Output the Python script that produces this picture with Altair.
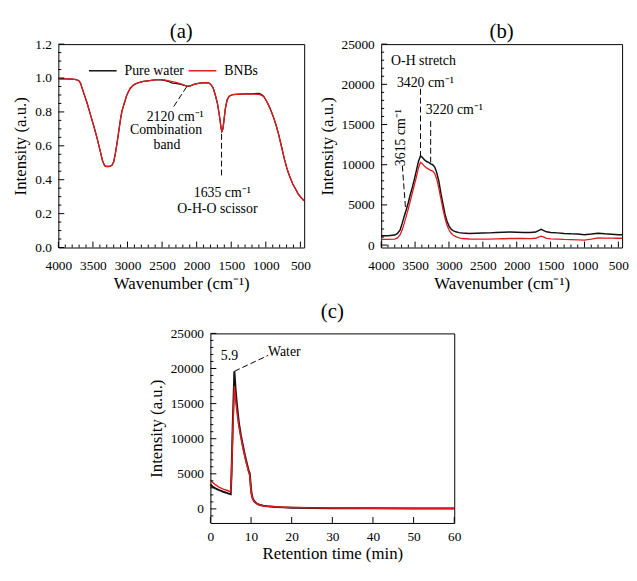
import altair as alt
import pandas as pd

FONT = "Liberation Serif, Times New Roman, serif"
RED = "#e31a1c"
BLACK = "#111111"

# ---------------- (a) FTIR-like transmittance ----------------
a_wn = [4000, 3900, 3800, 3740, 3700, 3680, 3640, 3590, 3540, 3490, 3440, 3395, 3360, 3330,
        3300, 3260, 3225, 3200, 3175, 3150, 3125, 3100, 3080, 3040, 3010, 2960, 2910, 2850,
        2770, 2680, 2580, 2480, 2400, 2350, 2300, 2230, 2140, 2100, 2040, 1960, 1880, 1820,
        1790, 1760, 1730, 1700, 1675, 1658, 1645, 1635, 1620, 1605, 1585, 1560, 1530, 1480,
        1400, 1300, 1200, 1100, 1060, 1030, 1000, 960, 927, 890, 850, 810, 770, 730, 690,
        650, 610, 570, 530, 490, 460, 445]
a_bnb = [0.995, 0.995, 0.993, 0.99, 0.983, 0.97, 0.92, 0.86, 0.79, 0.72, 0.645, 0.57, 0.51, 0.483,
         0.478, 0.479, 0.485, 0.505, 0.555, 0.62, 0.69, 0.76, 0.805, 0.86, 0.90, 0.94, 0.96, 0.972,
         0.98, 0.985, 0.99, 0.99, 0.983, 0.979, 0.975, 0.965, 0.952, 0.952, 0.962, 0.97, 0.973, 0.97,
         0.96, 0.94, 0.90, 0.85, 0.79, 0.74, 0.70, 0.685, 0.70, 0.75, 0.82, 0.87, 0.893, 0.902,
         0.904, 0.905, 0.905, 0.904, 0.898, 0.89, 0.872, 0.84, 0.81, 0.77, 0.72, 0.66, 0.59, 0.52, 0.46,
         0.415, 0.375, 0.345, 0.315, 0.295, 0.282, 0.276]
a_pure = [0.995, 0.995, 0.993, 0.99, 0.983, 0.97, 0.92, 0.86, 0.79, 0.72, 0.645, 0.57, 0.51, 0.483,
          0.478, 0.479, 0.485, 0.505, 0.555, 0.62, 0.69, 0.76, 0.805, 0.86, 0.90, 0.94, 0.96, 0.972,
          0.98, 0.985, 0.99, 0.988, 0.978, 0.97, 0.969, 0.962, 0.952, 0.952, 0.962, 0.97, 0.973, 0.97,
          0.96, 0.94, 0.90, 0.85, 0.79, 0.74, 0.70, 0.685, 0.70, 0.75, 0.82, 0.87, 0.893, 0.902,
          0.905, 0.906, 0.907, 0.909, 0.902, 0.891, 0.872, 0.84, 0.81, 0.77, 0.72, 0.66, 0.59, 0.52, 0.46,
          0.415, 0.375, 0.345, 0.315, 0.295, 0.282, 0.276]
a_series = ["Pure water", "BNBs"]

# ---------------- (b) Raman spectra ----------------
b_wn = [4000, 3900, 3800, 3760, 3720, 3690, 3660, 3630, 3600, 3570, 3540, 3510, 3480, 3450,
        3420, 3390, 3360, 3330, 3300, 3270, 3240, 3210, 3180, 3150, 3120, 3090, 3060, 3030,
        3000, 2970, 2940, 2900, 2850, 2800, 2700, 2600, 2500, 2400, 2300, 2200, 2100, 2000,
        1900, 1800, 1720, 1680, 1640, 1600, 1560, 1500, 1400, 1300, 1200, 1100, 1000, 900,
        800, 700, 600, 500, 445]
b_pure = [1150, 1150, 1250, 1450, 1900, 2700, 3600, 4400, 5300, 6300, 7200, 8200, 9300, 10400,
          11100, 10900, 10600, 10400, 10300, 10100, 10000, 9700, 9000, 8000, 6500, 5200, 3900, 3000,
          2400, 2000, 1800, 1650, 1550, 1500, 1450, 1480, 1500, 1520, 1560, 1600, 1620, 1600,
          1580, 1560, 1620, 1800, 1950, 1800, 1650, 1580, 1520, 1450, 1400, 1380, 1300, 1380,
          1480, 1400, 1350, 1300, 1280]
b_bnb = [700, 700, 750, 900, 1300, 1900, 2700, 3600, 4500, 5500, 6500, 7500, 8500, 9600,
         10300, 10100, 9800, 9600, 9450, 9300, 9200, 8900, 8200, 7100, 5800, 4500, 3400, 2500,
         1900, 1500, 1250, 1050, 900, 820, 760, 740, 740, 750, 770, 790, 820, 830,
         820, 800, 850, 1000, 1120, 1000, 850, 780, 740, 700, 680, 650, 620, 750,
         900, 880, 860, 850, 850]

# ---------------- (c) chromatogram ----------------
c_t = [0, 0.5, 1, 1.5, 2, 2.5, 3, 3.5, 4, 4.5, 5.0, 5.2, 5.5, 5.9, 6.2, 6.5, 7, 7.5, 8, 8.5, 9,
       9.4, 9.7, 9.9, 10.1, 10.4, 10.8, 11.3, 12, 13, 14, 16, 18, 20, 25, 30, 40, 50, 60]
c_pure = [3500, 3200, 3000, 2850, 2700, 2600, 2480, 2380, 2280, 2180, 2100, 5000, 12000, 19600,
          17000, 15000, 12300, 10500, 9000, 7600, 6400, 5500, 5000, 3500, 2300, 1500, 1100, 800,
          600, 450, 370, 280, 220, 180, 140, 110, 80, 70, 60]
c_bnb = [4150, 3800, 3550, 3350, 3150, 3000, 2850, 2750, 2650, 2550, 2450, 5000, 11000, 17500,
         15500, 14000, 11800, 10200, 8700, 7400, 6200, 5300, 4800, 3200, 2100, 1400, 1000, 780,
         600, 460, 380, 300, 240, 200, 150, 120, 90, 80, 80]

# ---------------- annotations ----------------
a_lab_x = [2310, 2443, 2429, 1629, 1700]
a_lab_y = [0.772, 0.695, 0.602, 0.322, 0.225]
a_lab_t = ["2120 cm⁻¹", "Combination", "band", "1635 cm⁻¹", "O-H-O scissor"]
a_seg_x = [2144, 1640]
a_seg_y = [0.949, 0.67]
a_seg_x2 = [2334, 1640]
a_seg_y2 = [0.83, 0.415]

b_lab_x = [3854, 3347, 2920]
b_lab_y = [22880, 20210, 16860]
b_lab_t = ["O-H stretch", "3420 cm⁻¹", "3220 cm⁻¹"]
b_rot_x = [3702]
b_rot_y = [13370]
b_rot_t = ["3615 cm⁻¹"]
b_seg_x = [3420, 3270, 3688]
b_seg_y = [19440, 15420, 9890]
b_seg_x2 = [3420, 3270, 3641]
b_seg_y2 = [11000, 10100, 4580]

c_lab_x = [4.7, 18.2]
c_lab_y = [21780, 22300]
c_lab_t = ["5.9", "Water"]
c_seg_x = [5.9]
c_seg_y = [19600]
c_seg_x2 = [14.2]
c_seg_y2 = [21870]

# tick values
wn_major = [4000, 3500, 3000, 2500, 2000, 1500, 1000, 500]
wn_minor = [v for v in range(4000, 440, -100) if v % 500 != 0]
a_ymajor = [0.0, 0.2, 0.4, 0.6, 0.8, 1.0, 1.2]
a_yminor = [round(i * 0.05, 2) for i in range(0, 25) if i % 4 != 0]
r_ymajor = [0, 5000, 10000, 15000, 20000, 25000]
b_yminor = [v for v in range(1000, 25000, 1000) if v % 5000 != 0]
c_yminor = [v for v in range(-1000, 25000, 1000) if v % 5000 != 0]
c_xmajor = [0, 10, 20, 30, 40, 50, 60]

WN_DOM = [445, 4000]


def axis(orient, values, title, fmt, pad, tpad):
    return alt.Axis(
        orient=orient, values=values, ticks=False, domain=False, grid=False,
        labelFont=FONT, labelFontSize=13.5, labelColor="black", labelPadding=pad,
        labelFlush=False, labelOverlap=False, format=fmt,
        title=title, titleFont=FONT, titleFontSize=17, titleFontWeight="normal",
        titleColor="black", titlePadding=tpad,
    )


def xs(dom, rev, ax, field="x"):
    return alt.X(field, type="quantitative",
                 scale=alt.Scale(domain=dom, reverse=rev, nice=False, zero=False), axis=ax)


def ys(dom, ax, field="y"):
    return alt.Y(field, type="quantitative",
                 scale=alt.Scale(domain=dom, nice=False, zero=False), axis=ax)


def title(t, off):
    return alt.TitleParams(t, font=FONT, fontSize=21, fontWeight="normal", color="black",
                           anchor="middle", offset=off)


def tick_layers(xdom, xrev, ydom, height, xmaj, xmin, ymaj, ymin):
    layers = []
    for vals, size in ((xmaj, 6), (xmin, 3)):
        if vals:
            layers.append(alt.Chart(pd.DataFrame({"x": vals})).mark_rule(
                color="black", strokeWidth=1).encode(
                x=xs(xdom, xrev, None), y=alt.value(height - size), y2=alt.value(height)))
    for vals, size in ((ymaj, 6), (ymin, 3)):
        if vals:
            layers.append(alt.Chart(pd.DataFrame({"y": vals})).mark_rule(
                color="black", strokeWidth=1).encode(
                y=ys(ydom, None), x=alt.value(0), x2=alt.value(size)))
    return layers


def text_layer(xdom, xrev, ydom, xv, yv, tv, align="center", angle=0):
    df = pd.DataFrame({"x": xv, "y": yv, "t": tv})
    return alt.Chart(df).mark_text(font=FONT, fontSize=14, color="black", align=align,
                                   baseline="middle", angle=angle).encode(
        x=xs(xdom, xrev, None), y=ys(ydom, None), text="t:N")


def seg_layer(xdom, xrev, ydom, x1, y1, x2, y2):
    df = pd.DataFrame({"x": x1, "y": y1, "x2": x2, "y2": y2})
    return alt.Chart(df).mark_rule(color="black", strokeWidth=1, strokeDash=[6, 3]).encode(
        x=xs(xdom, xrev, None), y=ys(ydom, None), x2="x2", y2="y2")


# ---------- panel (a) ----------
A_Y = [0, 1.2]
A_H = 206
df_a = pd.DataFrame({
    "x": a_wn + a_wn,
    "y": a_pure + a_bnb,
    "s": [a_series[0]] * len(a_wn) + [a_series[1]] * len(a_wn),
    "o": list(range(len(a_wn))) * 2,
})
a_lines = alt.Chart(df_a).mark_line(strokeWidth=1.3).encode(
    x=xs(WN_DOM, True, axis("bottom", wn_major, "Wavenumber (cm⁻¹)", "d", 11, 4)),
    y=ys(A_Y, axis("left", a_ymajor, "Intensity (a.u.)", ".1f", 7, 5)),
    color=alt.Color("s:N", scale=alt.Scale(domain=a_series, range=[BLACK, RED]),
                    legend=alt.Legend(orient="none", legendX=30, legendY=12,
                                      direction="horizontal", title=None,
                                      symbolType="stroke", symbolSize=784,
                                      symbolStrokeWidth=1.5, labelFont=FONT,
                                      labelFontSize=14, labelColor="black",
                                      labelOffset=7, columnPadding=1)),
    order="o:Q",
    detail="s:N",
)
panel_a = alt.layer(
    a_lines,
    *tick_layers(WN_DOM, True, A_Y, A_H, wn_major, wn_minor, a_ymajor, a_yminor),
    seg_layer(WN_DOM, True, A_Y, a_seg_x, a_seg_y, a_seg_x2, a_seg_y2),
    text_layer(WN_DOM, True, A_Y, a_lab_x, a_lab_y, a_lab_t),
).resolve_axis(x="independent", y="independent").properties(
    width=249, height=A_H, title=title("(a)", -4.5))

# ---------- panel (b) ----------
B_Y = [-300, 25000]
B_H = 206
df_bp = pd.DataFrame({"x": b_wn, "y": b_pure})
df_bb = pd.DataFrame({"x": b_wn, "y": b_bnb})
b_black = alt.Chart(df_bp).mark_line(color=BLACK, strokeWidth=1.5).encode(
    x=xs(WN_DOM, True, axis("bottom", wn_major, "Wavenumber (cm⁻¹)", "d", 11, 4)),
    y=ys(B_Y, axis("left", r_ymajor, "Intensity (a.u.)", "d", 7, 5)),
    order="x:Q")
b_red = alt.Chart(df_bb).mark_line(color=RED, strokeWidth=1.3).encode(
    x=xs(WN_DOM, True, None), y=ys(B_Y, None), order="x:Q")
panel_b = alt.layer(
    b_black, b_red,
    *tick_layers(WN_DOM, True, B_Y, B_H, wn_major, wn_minor, r_ymajor, b_yminor),
    seg_layer(WN_DOM, True, B_Y, b_seg_x, b_seg_y, b_seg_x2, b_seg_y2),
    text_layer(WN_DOM, True, B_Y, b_lab_x[:1], b_lab_y[:1], b_lab_t[:1], align="left"),
    text_layer(WN_DOM, True, B_Y, b_lab_x[1:], b_lab_y[1:], b_lab_t[1:]),
    text_layer(WN_DOM, True, B_Y, b_rot_x, b_rot_y, b_rot_t, angle=270),
).resolve_axis(x="independent", y="independent").properties(
    width=244, height=B_H, title=title("(b)", -4.5))

# ---------- panel (c) ----------
C_X = [0, 60]
C_Y = [-2000, 25000]
C_H = 192
df_cp = pd.DataFrame({"x": c_t, "y": c_pure})
df_cb = pd.DataFrame({"x": c_t, "y": c_bnb})
c_black = alt.Chart(df_cp).mark_line(color=BLACK, strokeWidth=2).encode(
    x=xs(C_X, False, axis("bottom", c_xmajor, "Retention time (min)", "d", 7, 3)),
    y=ys(C_Y, axis("left", r_ymajor, "Intensity (a.u.)", "d", 7, 5)),
    order="x:Q")
c_red = alt.Chart(df_cb).mark_line(color=RED, strokeWidth=1.5).encode(
    x=xs(C_X, False, None), y=ys(C_Y, None), order="x:Q")
panel_c = alt.layer(
    c_black, c_red,
    *tick_layers(C_X, False, C_Y, C_H, c_xmajor, [], r_ymajor, c_yminor),
    seg_layer(C_X, False, C_Y, c_seg_x, c_seg_y, c_seg_x2, c_seg_y2),
    text_layer(C_X, False, C_Y, c_lab_x, c_lab_y, c_lab_t),
).resolve_axis(x="independent", y="independent").properties(
    width=247, height=C_H, title=title("(c)", 5))

spacer = alt.Chart(pd.DataFrame({"x": [0.5], "y": [0.5]})).mark_point(opacity=0, size=1).encode(
    x=alt.X("x:Q", axis=None, scale=alt.Scale(domain=[0, 1])),
    y=alt.Y("y:Q", axis=None, scale=alt.Scale(domain=[0, 1])),
).properties(width=88, height=10, view=alt.ViewBackground(stroke="transparent"))

top = alt.hconcat(panel_a, panel_b, spacing=6)
bottom = alt.hconcat(spacer, panel_c, spacing=0)
chart = alt.vconcat(top, bottom, spacing=8).properties(
    padding={"left": 3, "top": 9, "right": 0, "bottom": 0}
).configure_view(stroke="black", strokeWidth=1).configure_axis(
    labelFont=FONT, titleFont=FONT, labelColor="black", titleColor="black"
).configure_scale(continuousPadding=0)

chart.save("out.html", embed_options={"renderer": "svg", "actions": False})
